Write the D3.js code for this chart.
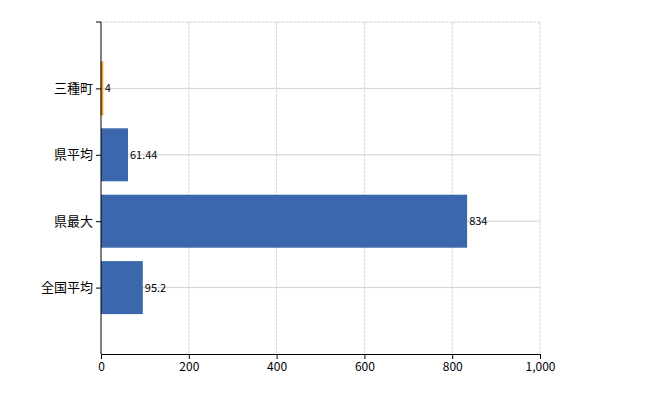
<!DOCTYPE html><html><head><meta charset="utf-8"><script src="https://d3js.org/d3.v7.min.js"></script>
<style>body{margin:0;background:#fff}text{font-family:"Noto Sans CJK JP",sans-serif}</style></head><body><svg id="c" width="650" height="400"></svg>
<script>
const categories=["三種町","県平均","県最大","全国平均"];
const values=[4,61.44,834,95.2];
const labels=["4","61.44","834","95.2"];
const xTicks=[0,200,400,600,800,1000];
const svg=d3.select("#c");
const L=101,R=540,T=22,B=354;
const x=d3.scaleLinear().domain([0,1000]).range([L,R]);
const y=d3.scalePoint().domain(categories).range([T,B]).padding(1);
const bh=53;
const g=svg.append("g");
xTicks.forEach(t=>{if(t>0)g.append("line").attr("x1",x(t)).attr("x2",x(t)).attr("y1",T).attr("y2",B).attr("stroke","#d6d6d6").attr("stroke-dasharray","3,1");});
g.append("line").attr("x1",L).attr("x2",R).attr("y1",T).attr("y2",T).attr("stroke","#d6d6d6").attr("stroke-dasharray","3,1");
categories.forEach(c=>g.append("line").attr("x1",L).attr("x2",R).attr("y1",y(c)).attr("y2",y(c)).attr("stroke","#d0d0d0"));
categories.forEach((c,i)=>{
 g.append("rect").attr("x",x(0)).attr("y",y(c)-bh/2).attr("width",Math.max(1,x(values[i])-x(0))).attr("height",bh).attr("fill",i==0?"#f5a030":"#3b67ad").attr("stroke",i==0?"#f0901c":"none");
 g.append("text").attr("x",x(values[i])+2).attr("y",y(c)+4).attr("font-size",11).attr("font-family","Liberation Sans, sans-serif").text(labels[i]);
});
const ya=svg.append("g").attr("transform",`translate(${L},0)`).call(d3.axisLeft(y).tickSizeOuter(0).tickSize(5));
ya.select(".domain").attr("d",`M-5,${T}H0V${B}`).attr("stroke","#000");
ya.selectAll("text").attr("font-size",13).attr("font-family","Noto Sans CJK JP").attr("fill","#000");
const xa=svg.append("g").attr("transform",`translate(0,${B})`).call(d3.axisBottom(x).tickValues(xTicks).tickSize(5).tickSizeOuter(0));
xa.selectAll("text").attr("font-size",12).attr("font-family","Liberation Sans, sans-serif").attr("fill","#000");
</script></body></html>
